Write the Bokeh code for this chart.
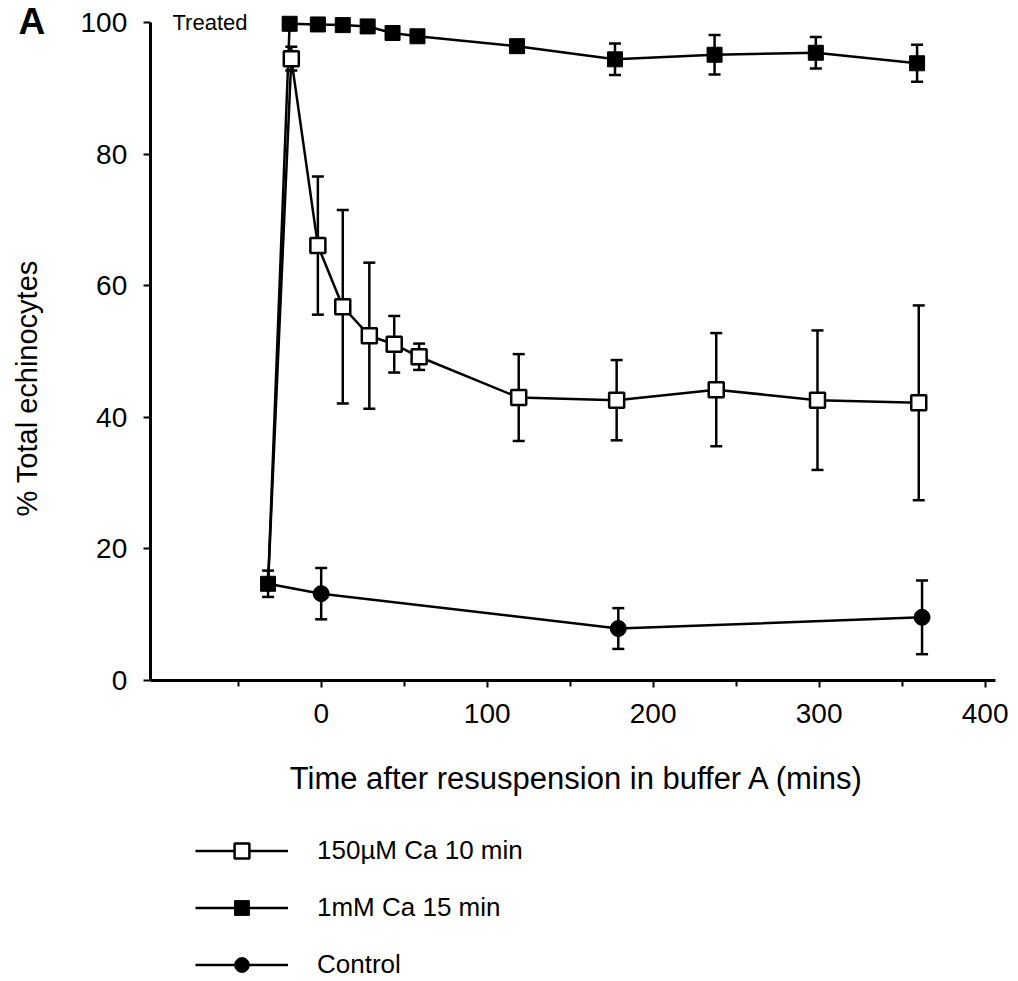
import math
from bokeh.plotting import figure
from bokeh.models import (ColumnDataSource, Whisker, TeeHead, Legend, LegendItem,
                          Label, FixedTicker, Range1d)
from bokeh.embed import file_html
from bokeh.resources import INLINE

# ---- data ----
baseline_time = -32
baseline_value = 14.7
baseline_err = 2.0

times_150uM = [-18, -2, 13, 29, 44, 59, 119, 178, 238, 299, 360]
values_150uM = [94.5, 66.1, 56.8, 52.4, 51.1, 49.2, 43.0, 42.6, 44.2, 42.6, 42.2]
errors_150uM = [1.8, 10.5, 14.7, 11.1, 4.3, 2.0, 6.6, 6.1, 8.6, 10.6, 14.8]

times_1mM = [-19, -2, 13, 28, 43, 58, 118, 177, 237, 298, 359]
values_1mM = [99.8, 99.7, 99.6, 99.4, 98.4, 97.9, 96.4, 94.4, 95.1, 95.4, 93.8]
errors_1mM = [0, 0, 0, 0, 0, 0, 0.8, 2.4, 3.0, 2.4, 2.8]

times_control = [0, 179, 362]
values_control = [13.2, 7.9, 9.6]
errors_control = [3.9, 3.1, 5.6]

x_ticks = [0, 100, 200, 300, 400]
x_minor_ticks = [-50, 50, 150, 250, 350]
y_ticks = [0, 20, 40, 60, 80, 100]

labels = ["150\u00b5M Ca 10 min", "1mM Ca 15 min", "Control"]
x_title = "Time after resuspension in buffer A (mins)"
y_title = "% Total echinocytes"
panel_letter = "A"
treated_text = "Treated"

FONT = "Liberation Sans"

# axes sit at fixed data positions; the frame spans the whole canvas
X_AXIS_START, X_AXIS_END = -103, 406
p = figure(width=1018, height=981, output_backend="svg", toolbar_location=None,
           x_range=Range1d(-193.2, 420.1), y_range=Range1d(-45.74, 103.34),
           min_border=0)
p.outline_line_color = None
p.grid.visible = False
p.background_fill_color = "white"
p.border_fill_color = "white"

xa = p.xaxis[0]
ya = p.yaxis[0]
xa.ticker = FixedTicker(ticks=x_ticks, minor_ticks=x_minor_ticks)
ya.ticker = FixedTicker(ticks=y_ticks)
xa.fixed_location = 0
ya.fixed_location = X_AXIS_START
xa.bounds = (X_AXIS_START, X_AXIS_END)
ya.bounds = (0, 100)
for ax in (xa, ya):
    ax.axis_line_width = 3
    ax.axis_line_color = "black"
    ax.major_tick_line_width = 2
    ax.major_tick_line_color = "black"
    ax.minor_tick_line_width = 2
    ax.minor_tick_line_color = "black"
    ax.major_tick_in = 0
    ax.major_tick_out = 7
    ax.minor_tick_in = 0
    ax.minor_tick_out = 6
    ax.major_label_text_font = FONT
    ax.major_label_text_font_size = "28px"
    ax.major_label_text_color = "black"
ya.major_label_standoff = 16
xa.major_label_standoff = 16

LW = 2.5

# lines (each series starts from the shared pre-treatment point)
line_150 = p.line([baseline_time] + times_150uM, [baseline_value] + values_150uM,
                  line_color="black", line_width=LW)
line_1mM = p.line([baseline_time] + times_1mM, [baseline_value] + values_1mM,
                  line_color="black", line_width=LW)
line_ctl = p.line([baseline_time] + times_control, [baseline_value] + values_control,
                  line_color="black", line_width=LW)

# error bars
def add_err(ts, vs, es):
    src = ColumnDataSource(dict(base=ts, upper=[v + e for v, e in zip(vs, es)],
                                lower=[v - e for v, e in zip(vs, es)]))
    w = Whisker(source=src, base="base", upper="upper", lower="lower",
                dimension="height", line_width=2.5, line_color="black",
                upper_head=TeeHead(size=12, line_width=2.5, line_color="black"),
                lower_head=TeeHead(size=12, line_width=2.5, line_color="black"),
                level="underlay")
    p.add_layout(w)

add_err(times_150uM, values_150uM, errors_150uM)
add_err(times_1mM, values_1mM, errors_1mM)
add_err(times_control, values_control, errors_control)
add_err([baseline_time], [baseline_value], [baseline_err])

# markers
sc_150 = p.scatter(times_150uM, values_150uM, marker="square", size=15,
                   fill_color="white", line_color="black", line_width=2.5)
sc_1mM = p.scatter(times_1mM, values_1mM, marker="square", size=15,
                   fill_color="black", line_color="black", line_width=1)
p.scatter([baseline_time], [baseline_value], marker="square", size=15,
          fill_color="black", line_color="black", line_width=1)
sc_ctl = p.scatter(times_control, values_control, marker="circle", size=16,
                   fill_color="black", line_color="black", line_width=1)

# texts
p.add_layout(Label(x=-89.6, y=100, text=treated_text, text_font=FONT,
                   text_font_size="22px", text_align="left",
                   text_baseline="middle", text_color="black"))
p.add_layout(Label(x=-182.3, y=100, y_offset=1, text=panel_letter,
                   text_font=FONT, text_font_size="37px", text_font_style="bold",
                   text_align="left", text_baseline="middle", text_color="black"))
p.add_layout(Label(x=-177.5, y=44.4, text=y_title, angle=math.pi / 2,
                   text_font=FONT, text_font_size="29px", text_align="center",
                   text_baseline="middle", text_color="black"))
p.add_layout(Label(x=154.4, y=-14.9, text=x_title,
                   text_font=FONT, text_font_size="31px", text_align="center",
                   text_baseline="middle", text_color="black"))

legend = Legend(items=[LegendItem(label=labels[0], renderers=[line_150, sc_150]),
                       LegendItem(label=labels[1], renderers=[line_1mM, sc_1mM]),
                       LegendItem(label=labels[2], renderers=[line_ctl, sc_ctl])],
                location=(195, -2), orientation="vertical",
                glyph_width=93, glyph_height=37, label_height=37,
                label_standoff=29, spacing=20, padding=0, margin=0,
                border_line_color=None, background_fill_alpha=0,
                label_text_font=FONT, label_text_font_size="26px",
                label_text_color="black")
p.add_layout(legend)

open("out.html", "w").write(file_html(p, INLINE))
